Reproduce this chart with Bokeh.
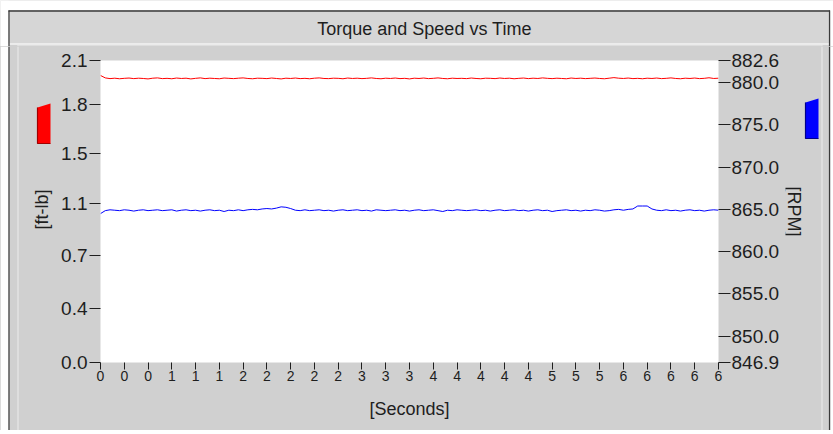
import math
from bokeh.plotting import figure
from bokeh.layouts import column, row
from bokeh.models import Range1d, LinearAxis, FixedTicker
from bokeh.core.properties import value
from bokeh.embed import file_html
from bokeh.resources import INLINE

# ---------------- data ----------------
time_s = [round(i * 0.05, 2) for i in range(131)]

torque_ftlb = [
    1.996, 1.979, 1.974, 1.977, 1.973, 1.976, 1.978, 1.974, 1.977, 1.975,
    1.972, 1.977, 1.979, 1.974, 1.976, 1.973, 1.978, 1.975, 1.977, 1.972,
    1.976, 1.979, 1.974, 1.977, 1.975, 1.973, 1.978, 1.976, 1.974, 1.977,
    1.979, 1.975, 1.973, 1.977, 1.976, 1.974, 1.978, 1.975, 1.972, 1.977,
    1.975, 1.978, 1.974, 1.976, 1.973, 1.977, 1.979, 1.975, 1.974, 1.977,
    1.976, 1.973, 1.978, 1.975, 1.977, 1.974, 1.976, 1.979, 1.975, 1.973,
    1.977, 1.975, 1.978, 1.974, 1.976, 1.972, 1.977, 1.975, 1.978, 1.974,
    1.976, 1.979, 1.975, 1.973, 1.977, 1.975, 1.976, 1.974, 1.978, 1.975,
    1.973, 1.977, 1.976, 1.974, 1.978, 1.975, 1.977, 1.973, 1.976, 1.978,
    1.974, 1.977, 1.975, 1.979, 1.976, 1.974, 1.977, 1.975, 1.973, 1.978,
    1.975, 1.977, 1.974, 1.976, 1.978, 1.975, 1.973, 1.977, 1.981, 1.977,
    1.975, 1.978, 1.974, 1.976, 1.973, 1.977, 1.975, 1.978, 1.974, 1.976,
    1.979, 1.975, 1.973, 1.977, 1.975, 1.978, 1.974, 1.976, 1.980, 1.975,
    1.977,
]

speed_rpm = [
    864.5, 864.85, 864.95, 864.9, 864.85, 864.95, 864.9, 864.8, 864.9, 864.95,
    864.85, 864.9, 864.95, 864.85, 864.9, 864.95, 864.8, 864.9, 864.95, 864.85,
    864.9, 864.8, 864.9, 864.95, 864.85, 864.9, 864.75, 864.9, 864.85, 864.95,
    864.85, 864.95, 865.0, 864.95, 865.05, 865.1, 865.05, 865.15, 865.3, 865.25,
    865.1, 864.9, 864.85, 864.95, 864.85, 864.9, 864.95, 864.85, 864.9, 864.8,
    864.9, 864.95, 864.85, 864.9, 864.95, 864.85, 864.9, 864.8, 864.95, 864.9,
    864.85, 864.9, 864.95, 864.85, 864.9, 864.8, 864.9, 864.95, 864.85, 864.9,
    864.95, 864.85, 864.75, 864.9, 864.85, 864.95, 864.9, 864.85, 864.9, 864.95,
    864.85, 864.9, 864.8, 864.9, 864.95, 864.85, 864.9, 864.95, 864.85, 864.9,
    864.8, 864.9, 864.95, 864.85, 864.9, 864.75, 864.85, 864.9, 864.95, 864.85,
    864.9, 864.8, 864.9, 864.85, 864.95, 864.9, 864.8, 864.85, 864.95, 865.0,
    864.9, 865.0, 865.05, 865.4, 865.4, 865.4, 865.05, 864.9, 864.85, 864.95,
    864.85, 864.9, 864.8, 864.9, 864.95, 864.85, 864.9, 864.8, 864.9, 864.95,
    864.9,
]

x_ticks = [0.0, 0.25, 0.5, 0.75, 1.0, 1.25, 1.5, 1.75, 2.0, 2.25, 2.5, 2.75, 3.0,
           3.25, 3.5, 3.75, 4.0, 4.25, 4.5, 4.75, 5.0, 5.25, 5.5, 5.75, 6.0, 6.25, 6.5]
x_tick_labels = ["0", "0", "0", "1", "1", "1", "2", "2", "2", "2", "2", "3", "3", "3",
                 "4", "4", "4", "4", "4", "5", "5", "5", "6", "6", "6", "6", "6"]

torque_ticks = [0.0, 0.375, 0.744, 1.106, 1.453, 1.794, 2.1]
torque_tick_labels = ["0.0", "0.4", "0.7", "1.1", "1.5", "1.8", "2.1"]

speed_ticks = [846.9, 850.0, 855.0, 860.0, 865.0, 870.0, 875.0, 880.0, 882.6]
speed_tick_labels = ["846.9", "850.0", "855.0", "860.0", "865.0", "870.0", "875.0", "880.0", "882.6"]

title_text = "Torque and Speed vs Time"
x_label = "[Seconds]"
torque_label = "[ft-lb]"
speed_label = "[RPM]"

# ---------------- style ----------------
FONT = "Liberation Sans"
PANEL = "#d0d0d0"
BAND = "#d6d6d6"
DARK = "#3a3a3a"
LIGHT = "#ececec"
TXT = "#1e1e1e"

PW, PH = 833, 434          # page
TOP_H = 46                 # title strip height
BOT_Y = 430                # bottom strip starts here
LEFT_W = 55                # left strip width
RIGHT_X = 785              # right strip starts here
FRAME_L, FRAME_R, FRAME_T, FRAME_B = 100, 718, 60, 362


def no_align(f):
    try:
        f.frame_align = False
    except Exception:
        pass


def deco_fig(x0, x1, y0, y1):
    """A figure whose frame is the whole canvas; data units are page pixels (y = -page_y)."""
    f = figure(width=x1 - x0, height=y1 - y0, output_backend="svg", toolbar_location=None,
               title=None, x_range=Range1d(x0, x1), y_range=Range1d(-y1, -y0),
               x_axis_location=None, y_axis_location=None, min_border=0)
    f.outline_line_color = None
    f.background_fill_color = PANEL
    f.border_fill_color = PANEL
    for g in f.grid:
        g.visible = False
    no_align(f)
    return f


def white(f, x0, x1, y0, y1):
    f.quad(left=x0, right=x1, top=-y0, bottom=-y1, fill_color="white", line_color=None)


def hline(f, x0, x1, y, color, w=1.0):
    f.line([x0, x1], [-y, -y], line_color=color, line_width=w)


def vline(f, x, y0, y1, color, w=1.0):
    f.line([x, x], [-y0, -y1], line_color=color, line_width=w)


# ---------------- title strip ----------------
top = deco_fig(0, PW, 0, TOP_H)
white(top, 0, PW, 0, 10)
white(top, 0, 8, 0, TOP_H)
white(top, 830, PW, 0, TOP_H)
top.quad(left=8, right=829, top=-10, bottom=-43, fill_color=BAND, line_color=None)
hline(top, 8, 829.5, 10.5, DARK, 1.5)
hline(top, 9, 829, 43.5, "#f4f4f4", 1.5)
vline(top, 8.5, 10, TOP_H, DARK, 1.2)
vline(top, 829, 10, TOP_H, DARK, 1.2)
hline(top, 17, 822, 45.5, LIGHT, 1.0)
vline(top, 17.5, 45, TOP_H, LIGHT, 1.0)
vline(top, 821.5, 45, TOP_H, LIGHT, 1.0)
top.text(x=[424], y=[-28], text=[title_text], text_font=value(FONT), text_font_size="18px",
         text_color=TXT, text_align="center", text_baseline="middle")

# ---------------- left strip ----------------
left = deco_fig(0, LEFT_W, TOP_H, BOT_Y)
white(left, 0, 8, TOP_H, BOT_Y)
vline(left, 8.5, TOP_H, BOT_Y, DARK, 1.2)
vline(left, 17.5, TOP_H, BOT_Y, LIGHT, 1.0)
left.patch([37, 50, 50, 37], [-107, -103, -143, -143], fill_color="#ff0000", line_color=None)
left.line([37, 37, 50], [-107, -143, -143], line_color="#a00000", line_width=1.2)
left.text(x=[41], y=[-209], text=[torque_label], angle=math.pi / 2, text_font=value(FONT),
          text_font_size="18px", text_color=TXT, text_align="center", text_baseline="middle")

# ---------------- right strip ----------------
right = deco_fig(RIGHT_X, PW, TOP_H, BOT_Y)
white(right, 830, PW, TOP_H, BOT_Y)
vline(right, 821.5, TOP_H, BOT_Y, LIGHT, 1.0)
vline(right, 829, TOP_H, BOT_Y, DARK, 1.2)
right.patch([805, 818, 818, 805], [-102, -98, -138, -138], fill_color="#0000ff", line_color=None)
right.line([805, 805, 818], [-102, -138, -138], line_color="#00008a", line_width=1.2)
right.text(x=[793], y=[-211], text=[speed_label], angle=-math.pi / 2, text_font=value(FONT),
           text_font_size="18px", text_color=TXT, text_align="center", text_baseline="middle")

# ---------------- bottom strip ----------------
bottom = deco_fig(0, PW, BOT_Y, PH)
white(bottom, 0, PW, 432, PH)
white(bottom, 0, 8, BOT_Y, PH)
white(bottom, 830, PW, BOT_Y, PH)
hline(bottom, 8, 829.5, 431.5, DARK, 1.5)
vline(bottom, 8.5, BOT_Y, 432, DARK, 1.2)
vline(bottom, 829, BOT_Y, 432, DARK, 1.2)

# ---------------- main chart ----------------
p = figure(width=RIGHT_X - LEFT_W, height=BOT_Y - TOP_H, output_backend="svg",
           toolbar_location=None, title=None,
           x_range=Range1d(0, 6.5), y_range=Range1d(0, 2.1),
           min_border_left=FRAME_L - LEFT_W, min_border_right=RIGHT_X - FRAME_R,
           min_border_top=FRAME_T - TOP_H, min_border_bottom=BOT_Y - FRAME_B)
no_align(p)
p.border_fill_color = PANEL
p.background_fill_color = "white"
p.outline_line_color = None
p.xgrid.visible = False
p.ygrid.visible = False
p.extra_y_ranges = {"rpm": Range1d(846.9, 882.6)}


def style_axis(ax, size):
    ax.axis_line_color = None
    ax.major_tick_line_color = TXT
    ax.minor_tick_line_color = None
    ax.major_tick_in = 0
    ax.major_label_text_font = FONT
    ax.major_label_text_font_size = size
    ax.major_label_text_color = TXT
    ax.axis_label_text_font = FONT
    ax.axis_label_text_font_style = "normal"
    ax.axis_label_text_color = TXT


xa = p.xaxis[0]
style_axis(xa, "14px")
xa.ticker = FixedTicker(ticks=x_ticks)
xa.major_label_overrides = {t: l for t, l in zip(x_ticks, x_tick_labels)}
xa.major_tick_out = 7
xa.major_label_standoff = 1
xa.axis_label = x_label
xa.axis_label_text_font_size = "18px"
xa.axis_label_standoff = 15

ya = p.yaxis[0]
style_axis(ya, "19px")
ya.ticker = FixedTicker(ticks=torque_ticks)
ya.major_label_overrides = {t: l for t, l in zip(torque_ticks, torque_tick_labels)}
ya.major_tick_out = 11
ya.major_label_standoff = 2

ra = LinearAxis(y_range_name="rpm")
style_axis(ra, "19px")
ra.ticker = FixedTicker(ticks=speed_ticks)
ra.major_label_overrides = {t: l for t, l in zip(speed_ticks, speed_tick_labels)}
ra.major_tick_out = 12
ra.major_label_standoff = 1
p.add_layout(ra, "right")

p.line(time_s, torque_ftlb, line_color="#ff0000", line_width=1.0)
p.line(time_s, speed_rpm, line_color="#0000ff", line_width=1.0, y_range_name="rpm")

middle = row(left, p, right, spacing=0, styles={"background-color": PANEL})
layout = column(top, middle, bottom, spacing=0)

open("out.html", "w").write(file_html(layout, INLINE))
